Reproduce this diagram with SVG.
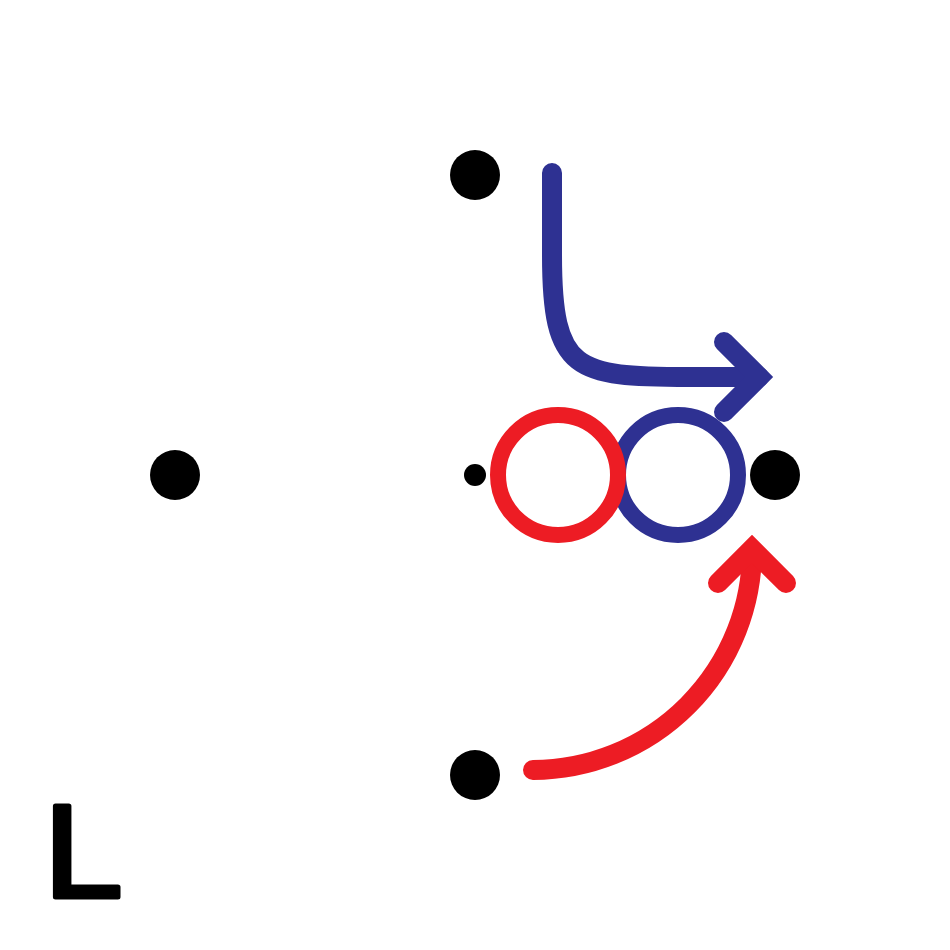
<svg xmlns="http://www.w3.org/2000/svg" width="950" height="950" viewBox="0 0 950 950">
  <style>
    .dot { fill: #000000; }
    .ring { fill: none; stroke-width: 16; }
    .red { stroke: #ED1C24; }
    .blue { stroke: #2E3192; }
    .arrow { fill: none; stroke-width: 20; stroke-linecap: round; stroke-linejoin: miter; stroke-miterlimit: 10; }
    .label { font-family: "Liberation Sans", Arial, sans-serif; font-size: 132px; fill: #000000; stroke: #000000; stroke-width: 5; stroke-linejoin: round; }
  </style>
  <rect x="0" y="0" width="950" height="950" fill="#ffffff"/>
  <g id="node-top"><circle class="dot" cx="475" cy="175" r="25"/></g>
  <g id="node-left"><circle class="dot" cx="175" cy="475" r="25"/></g>
  <g id="node-center"><circle class="dot" cx="475" cy="475" r="11"/></g>
  <g id="node-right"><circle class="dot" cx="775" cy="475" r="25"/></g>
  <g id="node-bottom"><circle class="dot" cx="475" cy="775" r="25"/></g>
  <g id="ring-blue"><circle class="ring blue" cx="678" cy="475" r="60"/></g>
  <g id="ring-red"><circle class="ring red" cx="558" cy="475" r="60"/></g>
  <g id="connectors">
    <path class="arrow blue" d="M552,173 V255 C552,372 575,377 690,377 H759"/>
    <path class="arrow blue" d="M724,342 L759,377 L724,412"/>
    <path class="arrow red" d="M533,770 A220,220 0 0 0 752,550"/>
    <path class="arrow red" d="M718,583 L752,549 L786,583"/>
  </g>
  <g id="label-L"><text class="label" x="0" y="0" transform="translate(44,896.5) scale(1.07,1)">L</text></g>
</svg>
